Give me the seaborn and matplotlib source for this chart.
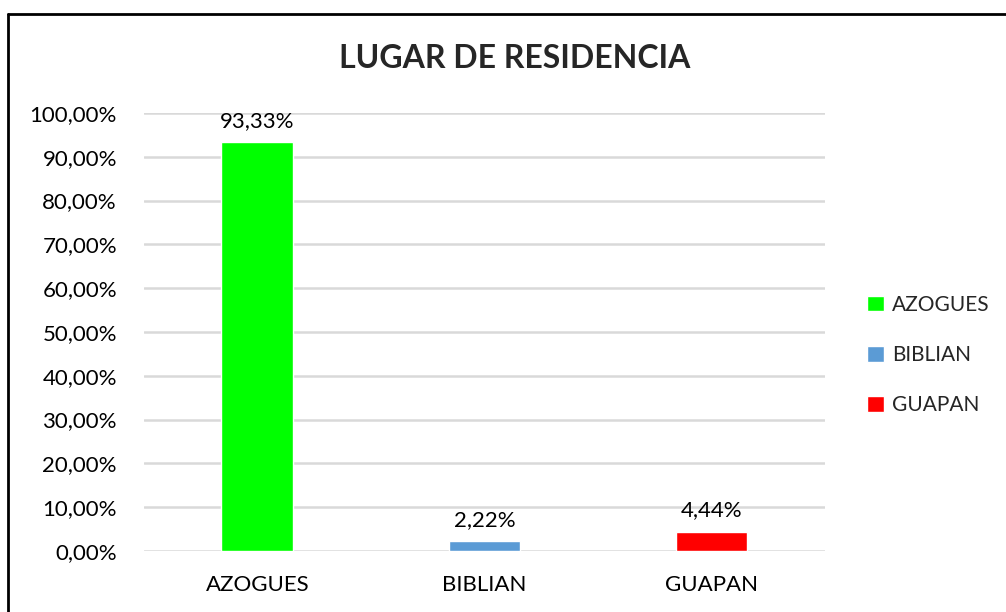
import pandas as pd
import seaborn as sns
import matplotlib.pyplot as plt
from matplotlib.lines import Line2D
from matplotlib.ticker import FuncFormatter

categories = ["AZOGUES", "BIBLIAN", "GUAPAN"]
values = [93.33, 2.22, 4.44]
value_labels = ["93,33%", "2,22%", "4,44%"]
colors = ["#00FF00", "#5B9BD5", "#FF0000"]

data = pd.DataFrame({"lugar": categories, "pct": values})

sns.set_style("white")
plt.rcParams["font.family"] = ["Lato", "DejaVu Sans"]

fig = plt.figure(figsize=(10.06, 6.12), dpi=100)
ax = fig.add_axes([0.1431, 0.0997, 0.6770, 0.7157])

sns.barplot(data=data, x="lugar", y="pct", hue="lugar", palette=dict(zip(categories, colors)),
            width=0.317, dodge=False, saturation=1, legend=True, ax=ax, zorder=3)

ax.set_ylim(0, 100)
ax.set_yticks(range(0, 101, 10))
ax.yaxis.set_major_formatter(FuncFormatter(lambda v, p: f"{v:.2f}%".replace(".", ",")))
ax.grid(axis="y", color="#D9D9D9", linewidth=1.8, zorder=0)
ax.set_axisbelow(True)
ax.tick_params(left=False, bottom=False, labelsize=16, colors="black")
ax.tick_params(axis="y", pad=16)
ax.tick_params(axis="x", pad=14)
ax.set_xlabel("")
ax.set_ylabel("")
for s in ax.spines.values():
    s.set_visible(False)

for cont, lab in zip(ax.containers, value_labels):
    ax.bar_label(cont, labels=[lab], padding=8, fontsize=16, color="black")

handles, labels = ax.get_legend_handles_labels()
ax.legend(handles=handles, labels=labels, loc="center left", bbox_to_anchor=(0.862, 0.42),
          bbox_transform=fig.transFigure, frameon=False, fontsize=15, borderpad=0, borderaxespad=0,
          handlelength=0.8, handleheight=0.8, handletextpad=0.4, labelspacing=1.45)

fig.text(0.512, 0.905, "LUGAR DE RESIDENCIA", ha="center", va="center", fontsize=23, fontweight="bold")

# outer frame of the chart area
fig.add_artist(Line2D([0.008, 1.0], [1 - 14 / 612, 1 - 14 / 612], transform=fig.transFigure, color="black", lw=2))
fig.add_artist(Line2D([0.008, 0.008], [0.0, 1 - 14 / 612], transform=fig.transFigure, color="black", lw=2))

fig.savefig("out.png", dpi=100)
